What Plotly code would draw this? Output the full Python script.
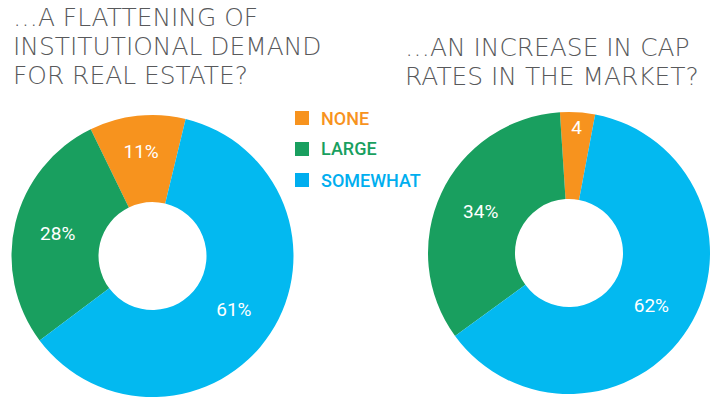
import plotly.graph_objects as go

# ---- data ----
categories = ["NONE", "LARGE", "SOMEWHAT"]
left_values = [11, 28, 61]
right_values = [4, 34, 62]
left_text = ["11%", "28%", "61%"]
right_text = ["4", "34%", "62%"]
colors = ["#F7931E", "#199F5F", "#03B9F0"]
legend_colors = ["#F7931E", "#199F5F", "#00AEEF"]
left_title_lines = ["…A FLATTENING OF", "INSTITUTIONAL DEMAND", "FOR REAL ESTATE?"]
right_title_lines = ["…AN INCREASE IN CAP", "RATES IN THE MARKET?"]

W, H = 721, 399

fig = go.Figure()

def px_domain(cx, cy, r):
    return dict(x=[(cx - r) / W, (cx + r) / W],
                y=[(H - cy - r) / H, (H - cy + r) / H])

common = dict(
    sort=False,
    direction="counterclockwise",
    hole=0.383,
    textinfo="text",
    textposition="inside",
    insidetextorientation="horizontal",
    textfont=dict(family="Roboto", size=19, color="white"),
    marker=dict(colors=colors, line=dict(width=0)),
    showlegend=False,
    hoverinfo="label+value",
)

fig.add_trace(go.Pie(labels=categories, values=left_values, text=left_text,
                     rotation=-26, domain=px_domain(152.5, 256, 141), **common))
fig.add_trace(go.Pie(labels=categories, values=right_values, text=right_text,
                     rotation=-3.7, domain=px_domain(569, 253, 141), **common))

# base size sets the line spacing (1.3 x size), span sets glyph size
title_font = dict(family="DejaVu Sans", size=22.4, color="#58595B", weight=200)

def title_html(lines):
    return "<br>".join('<span style="font-size:24.9px">%s</span>' % l for l in lines)

annotations = [
    dict(text=title_html(left_title_lines), x=11 / W, y=1 - 1 / H,
         xref="paper", yref="paper", xanchor="left", yanchor="top",
         align="left", showarrow=False, font=title_font),
    dict(text=title_html(right_title_lines), x=403 / W, y=1 - 31 / H,
         xref="paper", yref="paper", xanchor="left", yanchor="top",
         align="left", showarrow=False, font=title_font),
]

shapes = []
legend_y = [118, 149, 180]
for cat, col, ly in zip(categories, legend_colors, legend_y):
    shapes.append(dict(type="rect", xref="paper", yref="paper",
                       x0=295 / W, x1=309 / W,
                       y0=1 - (ly + 7) / H, y1=1 - (ly - 7) / H,
                       fillcolor=col, line=dict(width=0)))
    annotations.append(dict(text=cat, x=319 / W, y=1 - ly / H,
                            xref="paper", yref="paper",
                            xanchor="left", yanchor="middle", showarrow=False,
                            font=dict(family="Roboto", size=18, color=col, weight=500)))

fig.update_layout(
    width=W, height=H,
    margin=dict(l=0, r=0, t=0, b=0),
    paper_bgcolor="white",
    plot_bgcolor="white",
    annotations=annotations,
    shapes=shapes,
    uniformtext=dict(minsize=19, mode="show"),
)

fig.write_html("out.html")
